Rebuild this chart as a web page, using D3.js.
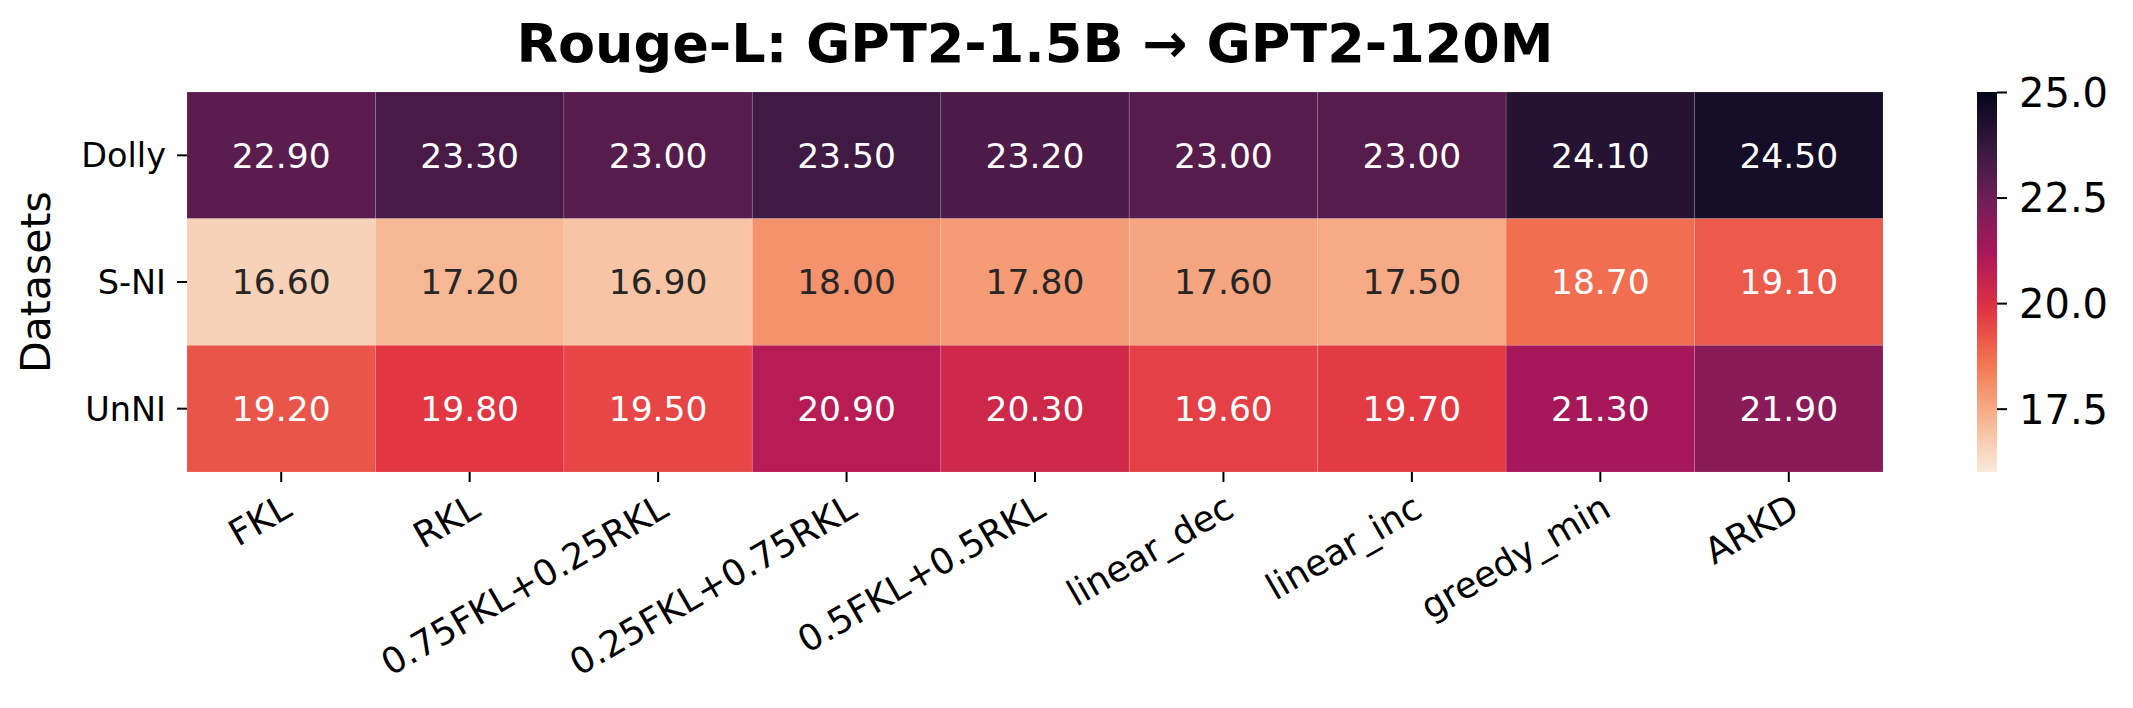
<!DOCTYPE html>
<html lang="en">
<head>
    <meta charset="UTF-8">
    <title>rouge-l heatmap</title>
    <script src="https://cdn.jsdelivr.net/npm/d3@7/dist/d3.min.js"></script>
    <style>
        body {
            margin: 0;
            background: #fff;
        }

        svg text {
            font-family: "DejaVu Sans", sans-serif;
        }

        svg .tick line {
            stroke: #000;
            stroke-width: 2px;
        }
    </style>
</head>
<body>
    <svg width="2133" height="708"></svg>
    <script>
        var methods = ['FKL', 'RKL', '0.75FKL+0.25RKL', '0.25FKL+0.75RKL', '0.5FKL+0.5RKL',
                       'linear_dec', 'linear_inc', 'greedy_min', 'ARKD'],
            datasets = ['Dolly', 'S-NI', 'UnNI'],
            dollyScores = [22.90, 23.30, 23.00, 23.50, 23.20, 23.00, 23.00, 24.10, 24.50],
            sniScores = [16.60, 17.20, 16.90, 18.00, 17.80, 17.60, 17.50, 18.70, 19.10],
            unniScores = [19.20, 19.80, 19.50, 20.90, 20.30, 19.60, 19.70, 21.30, 21.90],
            colorDomain = [16, 25],
            colorTicks = [25.0, 22.5, 20.0, 17.5];

        // rocket colormap stops (seaborn), used reversed
        var rocketPos = [0, 1 / 7, 2 / 7, 3 / 7, 4 / 7, 5 / 7, 6 / 7, 1],
            rocketCol = ['#03051a', '#35193e', '#701f57', '#ad1759', '#e13342', '#f37651', '#f6b48f', '#faebdd'];

        var rows = [dollyScores, sniScores, unniScores];

        var svg = d3.select('svg'),
            plotL = 187, plotR = 1883, plotT = 92, plotB = 472;

        var rocket = d3.scaleLinear()
                .domain(rocketPos)
                .range(rocketCol)
                .interpolate(d3.interpolateRgb),
            color = function(v) {
                var t = (colorDomain[1] - v) / (colorDomain[1] - colorDomain[0]);
                return rocket(Math.max(0, Math.min(1, t)));
            };

        var x = d3.scaleBand().domain(methods).range([plotL, plotR]),
            y = d3.scaleBand().domain(datasets).range([plotT, plotB]);

        function luminance(c) {
            var rgb = d3.rgb(c);
            var f = function(v) {
                v = v / 255;
                return v <= 0.03928 ? v / 12.92 : Math.pow((v + 0.055) / 1.055, 2.4);
            };
            return 0.2126 * f(rgb.r) + 0.7152 * f(rgb.g) + 0.0722 * f(rgb.b);
        }

        svg.append('rect')
            .attr('width', 2133)
            .attr('height', 708)
            .attr('fill', '#fff');

        var cells = [];
        rows.forEach(function(vals, i) {
            vals.forEach(function(v, j) {
                cells.push({ row: datasets[i], col: methods[j], value: v });
            });
        });

        var cell = svg.append('g').selectAll('g')
            .data(cells)
            .enter().append('g');

        cell.append('rect')
            .attr('x', function(d) { return x(d.col); })
            .attr('y', function(d) { return y(d.row); })
            .attr('width', x.bandwidth())
            .attr('height', y.bandwidth())
            .attr('fill', function(d) { return color(d.value); })
            .attr('stroke', 'rgba(255,255,255,0.12)')
            .attr('stroke-width', 1);

        cell.append('text')
            .attr('x', function(d) { return x(d.col) + x.bandwidth() / 2; })
            .attr('y', function(d) { return y(d.row) + y.bandwidth() / 2; })
            .attr('dy', '0.36em')
            .attr('text-anchor', 'middle')
            .style('font-size', '34.5px')
            .attr('fill', function(d) {
                return luminance(color(d.value)) > 0.408 ? '#262626' : '#fff';
            })
            .text(function(d) { return d.value.toFixed(2); });

        // x axis
        var xAxis = svg.append('g')
            .attr('transform', 'translate(0,' + plotB + ')')
            .call(d3.axisBottom(x).tickSize(10).tickSizeOuter(0));
        xAxis.select('.domain').remove();
        xAxis.selectAll('.tick text').remove();

        // labels rotated about their top-right corner
        methods.forEach(function(m) {
            var ax = x(m) + x.bandwidth() / 2,
                ay = plotB + 10 + 11;
            svg.append('text')
                .attr('transform', 'translate(' + ax + ',' + ay + ') rotate(-30)')
                .attr('text-anchor', 'end')
                .attr('dy', '0.7em')
                .style('font-size', '36px')
                .attr('fill', '#000')
                .text(m);
        });

        // y axis
        var yAxis = svg.append('g')
            .attr('transform', 'translate(' + plotL + ',0)')
            .call(d3.axisLeft(y).tickSize(10).tickSizeOuter(0).tickPadding(11));
        yAxis.select('.domain').remove();
        yAxis.selectAll('.tick text')
            .style('font-size', '33.5px')
            .attr('fill', '#000')
            .attr('dy', '0.36em');

        svg.append('text')
            .attr('transform', 'translate(50,' + ((plotT + plotB) / 2) + ') rotate(-90)')
            .attr('text-anchor', 'middle')
            .style('font-size', '41px')
            .attr('fill', '#000')
            .text('Datasets');

        // title
        svg.append('text')
            .attr('x', (plotL + plotR) / 2)
            .attr('y', 62)
            .attr('text-anchor', 'middle')
            .style('font-size', '54px')
            .style('font-weight', 'bold')
            .attr('fill', '#000')
            .text('Rouge-L: GPT2-1.5B \u2192 GPT2-120M');

        // colorbar
        var cbLeft = 1977, cbWidth = 20;
        var cbScale = d3.scaleLinear().domain(colorDomain).range([plotB, plotT]);

        var grad = svg.append('defs').append('linearGradient')
            .attr('id', 'cbGrad')
            .attr('x1', 0).attr('y1', 1)
            .attr('x2', 0).attr('y2', 0);

        d3.range(0, 1.0001, 0.02).forEach(function(t) {
            var v = colorDomain[0] + t * (colorDomain[1] - colorDomain[0]);
            grad.append('stop')
                .attr('offset', t)
                .attr('stop-color', color(v));
        });

        svg.append('rect')
            .attr('x', cbLeft)
            .attr('y', plotT)
            .attr('width', cbWidth)
            .attr('height', plotB - plotT)
            .attr('fill', 'url(#cbGrad)');

        var cbAxis = svg.append('g')
            .attr('transform', 'translate(' + (cbLeft + cbWidth) + ',0)')
            .call(d3.axisRight(cbScale)
                .tickValues(colorTicks)
                .tickFormat(d3.format('.1f'))
                .tickSize(10)
                .tickPadding(12));
        cbAxis.select('.domain').remove();
        cbAxis.selectAll('.tick text')
            .style('font-size', '40px')
            .attr('fill', '#000')
            .attr('dy', '0.36em');
    </script>
</body>
</html>
